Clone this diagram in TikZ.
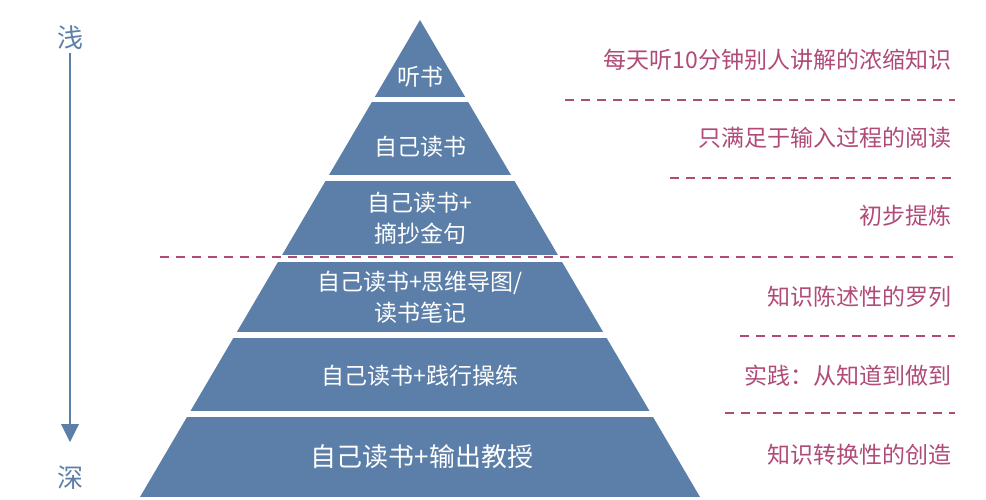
\documentclass[tikz,border=0pt]{standalone}
\usepackage{fontspec}
\setmainfont{Noto Sans CJK SC}
\usetikzlibrary{positioning}
\definecolor{pyrblue}{HTML}{5B7FA8}
\definecolor{notepink}{HTML}{B04A78}
\tikzset{
  layer/.style={text=white, font=\fontsize{23}{31}\selectfont, align=center},
  note/.style={text=notepink, font=\fontsize{23}{27}\selectfont, anchor=east},
  sep/.style={notepink, dashed, dash pattern=on 9pt off 7pt, line width=1.6pt},
}
\begin{document}
\begin{tikzpicture}[x=1pt,y=-1pt]
\useasboundingbox (0,0) rectangle (986,500);
\begin{scope}
\clip (420,20) -- (140,497) -- (700,497) -- cycle;
\fill[pyrblue] (0,20) rectangle (986,97);
\fill[pyrblue] (0,102) rectangle (986,175);
\fill[pyrblue] (0,181) rectangle (986,255);
\fill[pyrblue] (0,262) rectangle (986,332);
\fill[pyrblue] (0,338) rectangle (986,411);
\fill[pyrblue] (0,417) rectangle (986,497);
\end{scope}
\node[layer] (l1) at (420,77) {听书};
\node[layer] (l2) at (420,147) {自己读书};
\node[layer] (l3) at (420,218) {自己读书+\\摘抄金句};
\node[layer] (l4) at (420,297) {自己读书+思维导图/\\读书笔记};
\node[layer] (l5) at (420,376) {自己读书+践行操练};
\node[layer, font=\fontsize{26}{30}\selectfont] (l6) at (422,457) {自己读书+输出教授};
\node[note] (n1) at (955,60) {每天听10分钟别人讲解的浓缩知识};
\node[note] (n2) at (955,138) {只满足于输入过程的阅读};
\node[note] (n3) at (955,216) {初步提炼};
\node[note] (n4) at (955,297) {知识陈述性的罗列};
\node[note] (n5) at (955,376) {实践：从知道到做到};
\node[note] (n6) at (955,455) {知识转换性的创造};
\draw[sep] (565,100) -- (955,100);
\draw[sep] (670,178) -- (955,178);
\draw[sep] (160,257) -- (955,257);
\draw[sep] (740,336) -- (955,336);
\draw[sep] (725,413) -- (955,413);
\node[text=pyrblue, font=\fontsize{26}{30}\selectfont] (top) at (70,38) {浅};
\node[text=pyrblue, font=\fontsize{26}{30}\selectfont] (bot) at (70,478) {深};
\coordinate (tipend) at (70,442);
\draw[pyrblue, line width=1.5pt] (top.south) -- (70,425);
\fill[pyrblue] (61,424) -- (79,424) -- (tipend) -- cycle;
\end{tikzpicture}
\end{document}
